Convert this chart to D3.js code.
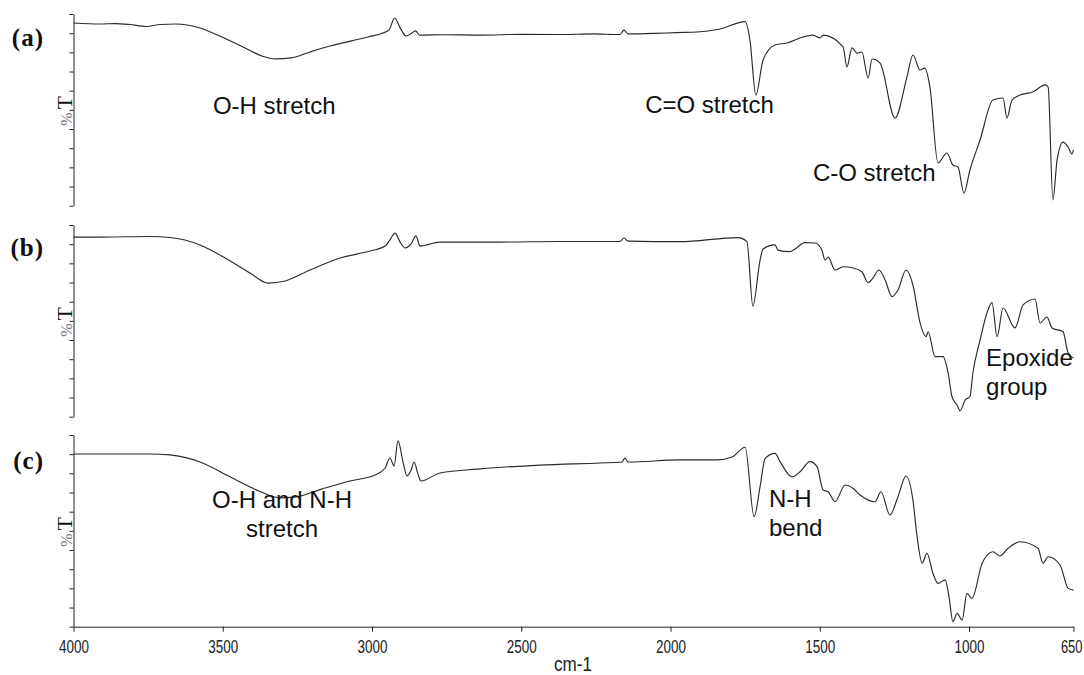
<!DOCTYPE html>
<html><head><meta charset="utf-8">
<script src="https://cdn.jsdelivr.net/npm/d3@7"></script>
<style>body{margin:0;background:#fff}svg{display:block}</style>
</head><body><svg id="chart" width="1084" height="675"></svg>
<script>
// Wavenumber (cm-1) vs %T (arbitrary 0-100 per panel)
const specA = [[4000,95.3],[3911,94.8],[3860,95.0],[3811,94.5],[3757,93.5],[3710,94.5],[3657,94.8],[3576,92.7],[3503,88.0],[3425,82.3],[3369,78.1],[3322,76.6],[3271,77.1],[3208,80.2],[3141,83.3],[3013,88.0],[2963,90.1],[2943,91.7],[2924,97.9],[2906,92.9],[2886,88.5],[2866,90.1],[2854,91.2],[2841,89.0],[2760,89.2],[2632,89.0],[2500,89.4],[2370,89.3],[2260,89.6],[2169,89.3],[2156,91.6],[2142,89.6],[2050,89.9],[1980,90.3],[1911,90.6],[1834,92.2],[1750,96.0],[1734,86.4],[1714,57.7],[1690,76.0],[1650,83.8],[1610,84.9],[1556,88.0],[1523,89.0],[1499,87.5],[1489,89.0],[1422,82.8],[1409,72.4],[1392,82.3],[1375,79.6],[1359,80.2],[1338,66.6],[1325,76.5],[1298,74.4],[1248,45.7],[1208,67.1],[1188,78.6],[1164,70.8],[1148,71.8],[1131,61.9],[1104,22.3],[1074,27.5],[1054,21.2],[1037,20.2],[1017,6.6],[997,18.6],[963,34.3],[920,55.1],[886,56.2],[873,45.7],[856,55.1],[829,57.7],[786,59.3],[745,63.0],[735,61.9],[719,3.0],[705,23.8],[685,33.2],[668,30.6],[655,27.0],[650,29.1]];
const specB = [[4000,93.7],[3911,93.7],[3744,94.0],[3677,93.5],[3576,89.6],[3492,82.8],[3409,75.0],[3348,69.7],[3291,70.8],[3208,76.5],[3107,82.8],[3007,86.4],[2956,89.0],[2940,92.2],[2923,95.8],[2906,91.1],[2889,88.0],[2869,90.1],[2853,94.3],[2839,89.0],[2772,91.1],[2571,91.1],[2370,91.4],[2169,91.4],[2156,93.2],[2142,91.6],[1968,91.3],[1774,93.4],[1744,91.3],[1724,57.7],[1700,81.7],[1690,87.5],[1650,89.6],[1640,86.9],[1600,86.1],[1583,87.5],[1550,90.8],[1516,90.6],[1493,86.9],[1482,81.7],[1472,83.3],[1449,76.5],[1422,78.2],[1389,77.6],[1359,75.6],[1338,69.9],[1322,72.3],[1302,76.5],[1281,71.3],[1258,62.6],[1238,66.1],[1211,76.5],[1188,68.7],[1164,48.9],[1144,41.7],[1137,44.3],[1114,31.3],[1087,31.3],[1070,22.8],[1057,10.4],[1040,6.1],[1030,3.1],[1013,8.7],[997,10.4],[987,22.8],[963,40.0],[940,54.1],[923,59.5],[906,41.7],[886,56.7],[846,46.3],[819,58.3],[779,61.4],[762,48.9],[739,52.0],[722,46.3],[685,44.3],[668,33.2],[650,30.6]];
const specC = [[4000,90.1],[3911,90.1],[3744,90.1],[3677,89.6],[3576,85.9],[3476,78.2],[3375,70.5],[3308,67.2],[3258,67.6],[3174,71.5],[3074,76.0],[2990,79.1],[2956,82.8],[2940,88.0],[2926,83.8],[2913,96.9],[2896,85.9],[2883,78.6],[2869,81.7],[2859,85.9],[2846,79.6],[2836,76.0],[2772,80.2],[2638,82.3],[2437,84.3],[2236,85.4],[2162,85.9],[2153,88.0],[2142,85.9],[1968,87.0],[1844,87.0],[1794,88.5],[1750,93.6],[1720,57.4],[1700,73.0],[1683,87.8],[1650,90.4],[1633,86.1],[1593,78.2],[1566,80.8],[1533,86.1],[1509,83.5],[1489,71.3],[1472,70.4],[1449,65.2],[1415,73.9],[1389,72.2],[1365,68.7],[1315,65.2],[1295,70.4],[1265,58.3],[1238,67.8],[1211,78.6],[1188,66.1],[1174,46.9],[1157,33.1],[1141,38.3],[1121,27.9],[1104,22.6],[1080,24.4],[1067,15.6],[1054,2.6],[1040,7.0],[1023,3.5],[1007,17.4],[990,14.8],[956,33.1],[920,39.1],[896,36.9],[869,40.9],[829,44.3],[769,40.9],[752,33.1],[735,36.5],[695,32.2],[668,20.0],[650,19.1]];

const xTicks = [4000,3500,3000,2500,2000,1500,1000,650];
const yTicks = [0,10,20,30,40,50,60,70,80,90,100];
const panelLabels = ["(a)","(b)","(c)"];
const xTitle = "cm-1";
const yTitle = ["%","T"];
const annotations = [
  {panel:0, lines:["O-H stretch"], wn:3533, t:48},
  {panel:0, lines:["C=O stretch"], wn:2085, t:48.5},
  {panel:0, lines:["C-O stretch"], wn:1523, t:12.9},
  {panel:1, lines:["Epoxide","group"], wn:943, t:26.4},
  {panel:2, lines:["O-H and N-H"], wn:3536, t:62.0},
  {panel:2, lines:["stretch"], wn:3422, t:46.8},
  {panel:2, lines:["N-H","bend"], wn:1670, t:62.4}
];

const svg = d3.select("#chart");
const x = d3.scaleLinear().domain([4000,650]).range([73.5,1073.5]);
const panelTops = [14, 225, 435];
const panelH = 191.7;
const specs = [specA, specB, specC];
const labelBase = [46, 256, 469];

specs.forEach((spec, i) => {
  const top = panelTops[i];
  const y = d3.scaleLinear().domain([0,100]).range([top+panelH, top]);
  const g = svg.append("g");
  g.append("g").attr("transform",`translate(${x(4000)},0)`).attr("color","#222")
    .call(d3.axisLeft(y).tickValues(yTicks).tickSize(4).tickSizeOuter(0).tickFormat(""))
    .call(s => s.selectAll("line,path").attr("stroke-width",1));
  g.append("path").datum(spec)
    .attr("fill","none").attr("stroke","#2a2a2a").attr("stroke-width",1.15)
    .attr("stroke-linejoin","round")
    .attr("d", d3.line().curve(d3.curveMonotoneX).x(d=>x(d[0])).y(d=>y(d[1])));
  // %T title
  const t = g.append("text")
    .attr("transform",`translate(71.5,${(top+top+panelH)/2+1}) rotate(-90)`)
    .attr("text-anchor","middle")
    .attr("font-family","'Liberation Serif','Times New Roman',serif");
  t.append("tspan").attr("font-size",16).attr("fill","#777").text(yTitle[0]);
  t.append("tspan").attr("font-size",22).attr("fill","#111").attr("dx",3).text(yTitle[1]);
  // panel label
  g.append("text").attr("x",44).attr("y",labelBase[i]).attr("text-anchor","end")
    .attr("font-family","'Liberation Serif','Times New Roman',serif")
    .attr("font-weight","bold").attr("font-size",25).attr("letter-spacing",1).attr("fill","#111")
    .text(panelLabels[i]);
  // annotations
  annotations.filter(a => a.panel===i).forEach(a => {
    const tx = g.append("text").attr("font-family","'Liberation Sans',Arial,sans-serif")
      .attr("font-size",24).attr("fill","#111");
    a.lines.forEach((ln, k) => {
      tx.append("tspan").attr("x", x(a.wn)).attr("y", y(a.t) + k*29).text(ln);
    });
  });
  if (i === 2) {
    const ax = g.append("g").attr("transform",`translate(0,${top+panelH})`).attr("color","#222")
      .call(d3.axisBottom(x).tickValues(xTicks).tickSize(5).tickSizeOuter(0).tickFormat(d3.format("d")));
    ax.selectAll("line,path").attr("stroke-width",1);
    ax.selectAll("text")
      .attr("y",26).attr("dy",0)
      .attr("text-anchor", d => d === 650 ? "end" : "middle")
      .attr("x", d => d === 650 ? 8.5/0.72 : 0)
      .attr("transform", d => d === 650 ? "scale(0.72,1)" : "scale(0.75,1)")
      .attr("font-family","'Liberation Sans',Arial,sans-serif")
      .attr("font-size",18).attr("fill","#222");
    svg.append("text").attr("x",554).attr("y",671)
      .attr("font-family","'Liberation Sans',Arial,sans-serif")
      .attr("font-size",20).attr("fill","#222")
      .attr("textLength",38).attr("lengthAdjust","spacingAndGlyphs")
      .text(xTitle);
  }
});
</script></body></html>
